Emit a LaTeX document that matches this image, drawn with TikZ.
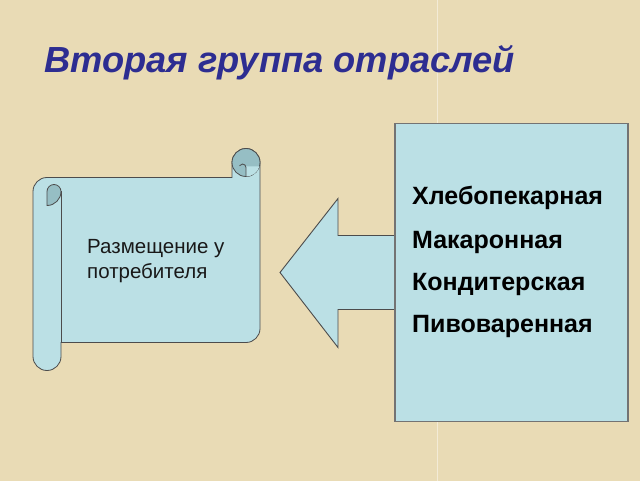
\documentclass[tikz,border=0pt]{standalone}
\usepackage{fontspec}
\setmainfont{Liberation Sans}
\usepackage{tikz}
\usepackage{xcolor}

\definecolor{parch}{RGB}{233,219,181}
\definecolor{paper}{RGB}{187,224,229}
\definecolor{paperdark}{RGB}{150,190,196}
\definecolor{titleblue}{RGB}{45,45,145}

\begin{document}
\begin{tikzpicture}[x=1pt, y=-1pt,
    box/.style={draw=black!55, fill=paper, line width=1.1pt},
    sheet/.style={draw=black!70, fill=paper, line width=0.8pt},
    roll/.style={draw=black!70, fill=paperdark, line width=0.8pt},
    item/.style={anchor=base west, inner sep=0pt, font=\fontsize{25}{29}\selectfont\bfseries},
    plain/.style={anchor=base west, inner sep=0pt, text=black!90, font=\fontsize{20.5}{24}\selectfont}
]
    % Background
    \fill[parch] (0,0) rectangle (640,480);
    \draw[white!45!parch, line width=1pt] (437,0) -- (437,480);
    \useasboundingbox (0,0) rectangle (640,480);

    % Title
    \node[anchor=base west, inner sep=0pt, text=titleblue,
          font=\fontsize{36.3}{42}\selectfont\bfseries\itshape] (title) at (44,72) {Вторая группа отраслей};

    % Scroll
    \draw[sheet] (33,191) arc[start angle=180, end angle=270, radius=14] -- (232,177) -- (232,162)
        arc[start angle=180, end angle=360, radius=14] -- (260,328)
        arc[start angle=0, end angle=90, radius=14] -- (61,342) -- (61,356)
        arc[start angle=0, end angle=180, radius=14] -- cycle;
    \draw[sheet] (61,191) -- (61,342);
    % top right roll
    \draw[roll] (246,162) circle (14);
    \fill[paper] (246,176) -- (246,166) -- (259.4,166) arc[start angle=16.6, end angle=90, radius=14] -- cycle;
    \draw[black!70, line width=0.8pt] (246,176.5) -- (246,167) arc[start angle=0, end angle=-150, radius=3.5];
    % top left roll
    \draw[roll] (47,205) -- (47,191) arc[start angle=180, end angle=360, radius=7]
        arc[start angle=0, end angle=90, radius=14] -- cycle;
    \node[plain] (place) at (87,253) {Размещение у};
    \node[plain] (place2) at (87,278) {потребителя};

    % Arrow
    \draw[box, line width=0.9pt, draw=black!70] (396,235) -- (338,235) -- (338,198) -- (280,272)
        -- (338,347) -- (338,309) -- (396,309);

    % List box
    \node[box, minimum width=233, minimum height=298] (list) at (511.5,272) {};
    \node[item] (bread) at (412,204) {Хлебопекарная};
    \node[item] (pasta) at (412,248) {Макаронная};
    \node[item] (sweets) at (412,290) {Кондитерская};
    \node[item] (beer) at (412,332) {Пивоваренная};
\end{tikzpicture}
\end{document}
